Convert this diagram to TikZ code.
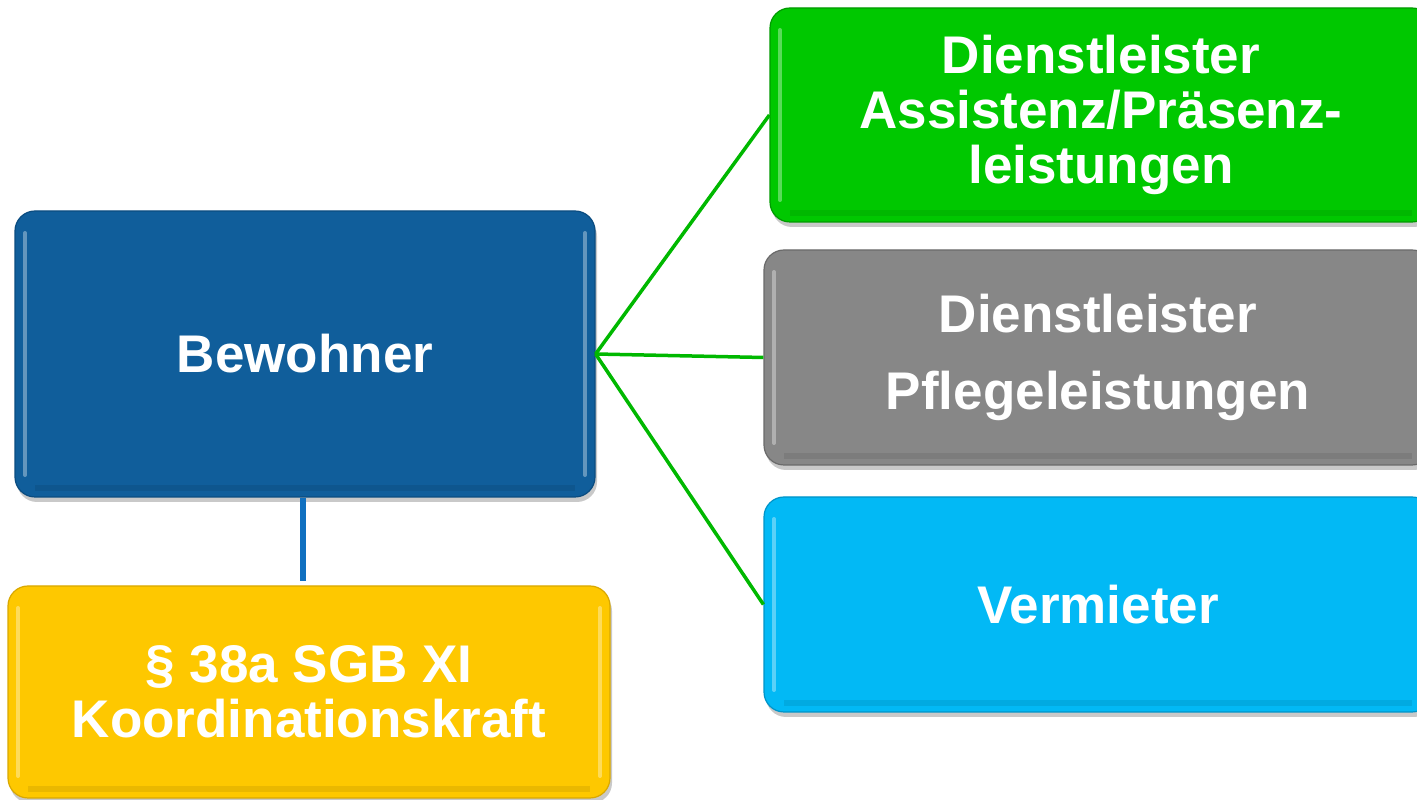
\documentclass[tikz,border=0pt]{standalone}
\usepackage{fontspec}
\setmainfont{Liberation Sans}
\usetikzlibrary{shadows}
\definecolor{bewblue}{HTML}{105E9B}
\definecolor{bewedge}{HTML}{0B4C80}
\definecolor{gfill}{HTML}{00C800}
\definecolor{gedge}{HTML}{009A00}
\definecolor{grfill}{HTML}{878787}
\definecolor{gredge}{HTML}{6A6A6A}
\definecolor{cfill}{HTML}{02B9F5}
\definecolor{cedge}{HTML}{0094C8}
\definecolor{yfill}{HTML}{FEC800}
\definecolor{yedge}{HTML}{D9A800}
\definecolor{lgreen}{HTML}{00B800}
\definecolor{lblue}{HTML}{1070C0}
\tikzset{
  boxstyle/.style={rectangle, rounded corners=20pt, line width=1.2pt,
    text=white, font=\fontsize{53}{55}\selectfont\bfseries, align=center,
    inner sep=0pt,
    drop shadow={shadow xshift=2pt, shadow yshift=-5pt, opacity=0.3, fill=black!70},
    path picture={
      \draw[white, opacity=0.35, line width=4pt, line cap=round]
        ([xshift=10pt,yshift=-22pt]path picture bounding box.north west) --
        ([xshift=10pt,yshift=22pt]path picture bounding box.south west);
      \draw[white, opacity=0.35, line width=4pt, line cap=round]
        ([xshift=-10pt,yshift=-22pt]path picture bounding box.north east) --
        ([xshift=-10pt,yshift=22pt]path picture bounding box.south east);
      \draw[black, opacity=0.08, line width=6pt]
        ([xshift=20pt,yshift=9pt]path picture bounding box.south west) --
        ([xshift=-20pt,yshift=9pt]path picture bounding box.south east);
    }},
  greenline/.style={draw=lgreen, line width=3.5pt},
  blueline/.style={draw=lblue, line width=5.5pt}
}
\begin{document}
\begin{tikzpicture}[x=1pt,y=1pt]
\useasboundingbox (0,0) rectangle (1417,800);
\node[boxstyle, fill=bewblue, draw=bewedge, minimum width=580pt, minimum height=286pt] (bew) at (305,446) {Bewohner};
\node[boxstyle, fill=yfill, draw=yedge, minimum width=602pt, minimum height=212pt] (koord) at (309,108) {§ 38a SGB XI\\Koordinationskraft};
\node[boxstyle, fill=gfill, draw=gedge, minimum width=662pt, minimum height=214pt] (gruen) at (1101,685) {Dienstleister\\Assistenz/Präsenz-\\leistungen};
\node[boxstyle, fill=grfill, draw=gredge, minimum width=668pt, minimum height=215pt] (grau) at (1098,442.5) {Dienstleister\\[22pt]Pflegeleistungen};
\node[boxstyle, fill=cfill, draw=cedge, minimum width=668pt, minimum height=215pt] (cyan) at (1098,195.5) {Vermieter};
\draw[greenline] (bew.east) -- (gruen.west);
\draw[greenline] (bew.east) -- (grau.west);
\draw[greenline] (bew.east) -- (cyan.west);
\coordinate (bluetop) at ([xshift=-2pt]bew.south);
\coordinate (bluebot) at ([yshift=4pt]koord.north);
\draw[blueline] (bluetop) -- (bluetop |- bluebot);
\end{tikzpicture}
\end{document}
